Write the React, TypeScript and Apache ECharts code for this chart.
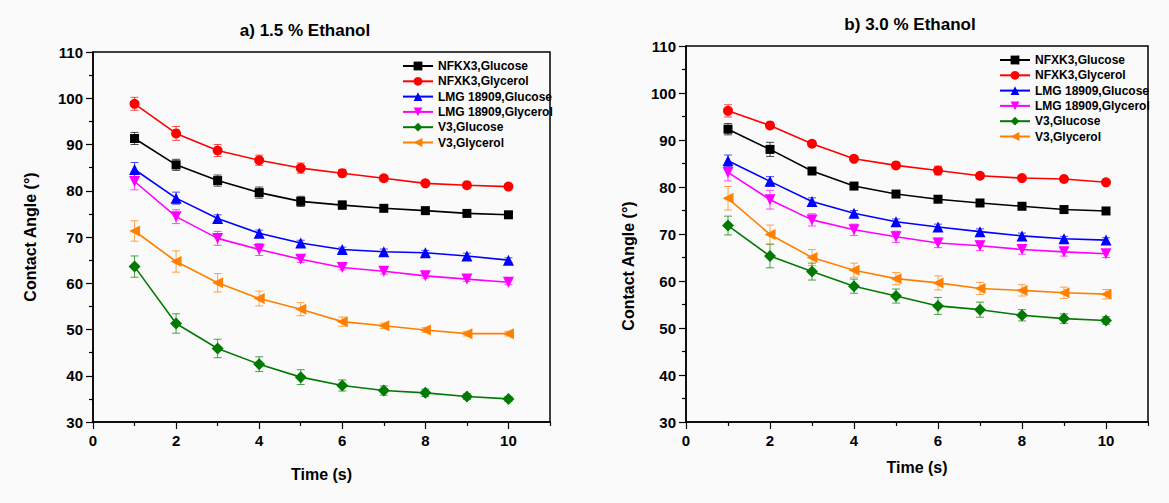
import React, { useEffect, useRef } from 'react';
import * as echarts from 'echarts';

const times = [1, 2, 3, 4, 5, 6, 7, 8, 9, 10];
const xTickLabels = [0, 2, 4, 6, 8, 10];
const xMinorTicks = [1, 3, 5, 7, 9, 11];

const namesA = ['NFKX3,Glucose', 'NFXK3,Glycerol', 'LMG 18909,Glucose', 'LMG 18909,Glycerol', 'V3,Glucose', 'V3,Glycerol'];
const namesB = ['NFXK3,Glucose', 'NFXK3,Glycerol', 'LMG 18909,Glucose', 'LMG 18909,Glycerol', 'V3,Glucose', 'V3,Glycerol'];

// Panel a) 1.5 % Ethanol
const nfxGluA = [91.3, 85.6, 82.2, 79.6, 77.7, 76.9, 76.2, 75.7, 75.1, 74.8];
const nfxGlyA = [98.8, 92.4, 88.7, 86.6, 84.9, 83.8, 82.7, 81.6, 81.2, 80.9];
const lmgGluA = [84.6, 78.4, 74.0, 70.8, 68.7, 67.3, 66.8, 66.6, 65.9, 65.0];
const lmgGlyA = [82.0, 74.4, 69.7, 67.3, 65.2, 63.4, 62.6, 61.6, 60.9, 60.2];
const v3GluA = [63.6, 51.3, 45.9, 42.5, 39.7, 37.9, 36.8, 36.3, 35.5, 35.0];
const v3GlyA = [71.3, 64.7, 60.1, 56.7, 54.4, 51.7, 50.8, 49.9, 49.1, 49.1];

const nfxGluAErr = [1.3, 1.2, 1.2, 1.2, 1.1, 0.9, 0.6, 0.5, 0.5, 0.4];
const nfxGlyAErr = [1.4, 1.5, 1.3, 1.1, 1.1, 0.8, 0.6, 0.5, 0.5, 0.4];
const lmgGluAErr = [1.5, 1.3, 0.8, 0.7, 0.6, 0.5, 0.6, 0.5, 0.6, 0.5];
const lmgGlyAErr = [1.8, 1.5, 1.5, 1.3, 0.7, 0.5, 0.6, 0.5, 0.5, 0.5];
const v3GluAErr = [2.3, 2.1, 2.0, 1.6, 1.6, 1.2, 1.0, 0.8, 0.6, 0.5];
const v3GlyAErr = [2.2, 2.3, 2.0, 1.6, 1.4, 1.0, 0.6, 0.5, 0.5, 0.5];

// Panel b) 3.0 % Ethanol
const nfxGluB = [92.3, 88.0, 83.4, 80.2, 78.5, 77.4, 76.6, 75.9, 75.2, 74.9];
const nfxGlyB = [96.2, 93.1, 89.2, 86.0, 84.6, 83.5, 82.4, 81.9, 81.7, 81.0];
const lmgGluB = [85.6, 81.2, 76.9, 74.4, 72.6, 71.5, 70.5, 69.6, 69.0, 68.7];
const lmgGlyB = [83.1, 77.3, 73.0, 70.9, 69.4, 68.1, 67.5, 66.7, 66.2, 65.8];
const v3GluB = [71.8, 65.3, 62.0, 58.9, 56.8, 54.7, 53.9, 52.7, 52.0, 51.6];
const v3GlyB = [77.6, 69.9, 65.0, 62.3, 60.5, 59.6, 58.4, 58.0, 57.5, 57.2];

const nfxGluBErr = [1.2, 1.5, 0.6, 0.5, 0.5, 0.5, 0.5, 0.5, 0.5, 0.4];
const nfxGlyBErr = [1.3, 0.6, 0.6, 0.5, 0.5, 0.9, 0.5, 0.5, 0.5, 0.4];
const lmgGluBErr = [1.2, 1.0, 0.8, 0.6, 0.6, 0.6, 0.6, 0.6, 0.5, 0.5];
const lmgGlyBErr = [1.8, 2.0, 1.3, 1.2, 1.2, 1.0, 1.0, 1.0, 0.9, 0.8];
const v3GluBErr = [2.0, 2.5, 1.8, 1.5, 1.5, 1.8, 1.6, 1.2, 1.0, 0.8];
const v3GlyBErr = [2.5, 2.0, 1.7, 1.5, 1.3, 1.5, 1.3, 1.2, 1.2, 1.0];

const FONT = '"Liberation Sans", Arial, sans-serif';

const styles = [
  { color: '#000000', symbol: 'rect', size: 9 },
  { color: '#ff0000', symbol: 'circle', size: 10 },
  { color: '#0000ff', symbol: 'triangle', size: 11 },
  { color: '#ff00ff', symbol: 'path://M0,0 L10,0 L5,9 Z', size: 11 },
  { color: '#007a00', symbol: 'diamond', size: 12 },
  { color: '#ff8000', symbol: 'path://M0,5 L9,0 L9,10 Z', size: 11 },
];

const panelA = [nfxGluA, nfxGlyA, lmgGluA, lmgGlyA, v3GluA, v3GlyA];
const panelAErr = [nfxGluAErr, nfxGlyAErr, lmgGluAErr, lmgGlyAErr, v3GluAErr, v3GlyAErr];
const panelB = [nfxGluB, nfxGlyB, lmgGluB, lmgGlyB, v3GluB, v3GlyB];
const panelBErr = [nfxGluBErr, nfxGlyBErr, lmgGluBErr, lmgGlyBErr, v3GluBErr, v3GlyBErr];

function errorSeries(name: string, xIdx: number, yIdx: number, vals: number[], errs: number[], color: string) {
  return {
    type: 'custom',
    name,
    xAxisIndex: xIdx,
    yAxisIndex: yIdx,
    silent: true,
    z: 1,
    data: times.map((t, i) => [t, vals[i] - errs[i], vals[i] + errs[i]]),
    encode: { x: 0, y: [1, 2] },
    renderItem: (params: any, api: any) => {
      const x = api.value(0);
      const lo = api.coord([x, api.value(1)]);
      const hi = api.coord([x, api.value(2)]);
      const w = 4;
      const style = { stroke: color, lineWidth: 1, opacity: 0.7 };
      return {
        type: 'group',
        children: [
          { type: 'line', shape: { x1: lo[0], y1: lo[1], x2: hi[0], y2: hi[1] }, style },
          { type: 'line', shape: { x1: lo[0] - w, y1: lo[1], x2: lo[0] + w, y2: lo[1] }, style },
          { type: 'line', shape: { x1: hi[0] - w, y1: hi[1], x2: hi[0] + w, y2: hi[1] }, style },
        ],
      };
    },
  };
}

function lineSeries(name: string, xIdx: number, yIdx: number, vals: number[], k: number) {
  const s = styles[k];
  return {
    type: 'line',
    name,
    xAxisIndex: xIdx,
    yAxisIndex: yIdx,
    z: 3,
    data: times.map((t, i) => [t, vals[i]]),
    symbol: s.symbol,
    symbolSize: s.size,
    lineStyle: { color: s.color, width: 1.6 },
    itemStyle: { color: s.color },
  };
}

function xAxes(gridIndex: number, nameGap: number) {
  return [
    {
      gridIndex,
      type: 'value',
      position: 'bottom',
      min: 0,
      max: 11,
      interval: 1,
      axisLine: { show: true, lineStyle: { color: '#000', width: 1.5 } },
      axisTick: { show: true, customValues: xMinorTicks, length: 4, lineStyle: { color: '#000', width: 1.2 } },
      axisLabel: { show: false },
      splitLine: { show: false },
    },
    {
      gridIndex,
      type: 'value',
      position: 'bottom',
      offset: 0,
      min: 0,
      max: 11,
      interval: 2,
      axisLine: { show: false },
      axisTick: { show: true, customValues: xTickLabels, length: 7, lineStyle: { color: '#000', width: 1.2 } },
      axisLabel: {
        customValues: xTickLabels,
        formatter: (v: number) => (v % 2 === 0 && v <= 10 ? String(v) : ''),
        fontSize: 15,
        fontWeight: 'bold',
        fontFamily: FONT,
        color: '#000',
        margin: 11,
      },
      splitLine: { show: false },
      name: 'Time (s)',
      nameLocation: 'middle',
      nameGap,
      nameTextStyle: { fontSize: 16, fontWeight: 'bold', fontFamily: FONT, color: '#000' },
    },
  ];
}

function yAxis(gridIndex: number, nameGap: number, padding: number[]) {
  return {
    gridIndex,
    type: 'value',
    position: 'left',
    min: 30,
    max: 110,
    interval: 10,
    axisLine: { show: true, lineStyle: { color: '#000', width: 1.5 } },
    axisTick: { show: true, length: 7, lineStyle: { color: '#000', width: 1.2 } },
    minorTick: { show: true, splitNumber: 2, length: 4, lineStyle: { color: '#000', width: 1.2 } },
    axisLabel: { fontSize: 15, fontWeight: 'bold', fontFamily: FONT, color: '#000', margin: 10 },
    splitLine: { show: false },
    name: 'Contact Angle (°)',
    nameLocation: 'middle',
    nameGap,
    nameTextStyle: { fontSize: 16, fontWeight: 'bold', fontFamily: FONT, color: '#000', padding },
  };
}

function legend(names: string[], left: number, top: number) {
  return {
    orient: 'vertical',
    left,
    top,
    itemWidth: 30,
    itemHeight: 11,
    itemGap: 3.3,
    data: names,
    textStyle: { fontSize: 12, fontWeight: 'bold', fontFamily: FONT, color: '#000', lineHeight: 12 },
  };
}

export default function App() {
  const ref = useRef<HTMLDivElement>(null);
  useEffect(() => {
    if (!ref.current) return;
    const chart = echarts.init(ref.current, null, { renderer: 'svg' });
    const series: any[] = [];
    panelA.forEach((v, k) => series.push(errorSeries('errA' + k, 0, 0, v, panelAErr[k], styles[k].color)));
    panelB.forEach((v, k) => series.push(errorSeries('errB' + k, 2, 1, v, panelBErr[k], styles[k].color)));
    panelA.forEach((v, k) => series.push(lineSeries(namesA[k], 0, 0, v, k)));
    panelB.forEach((v, k) => series.push(lineSeries(namesB[k], 2, 1, v, k)));

    chart.setOption({
      animation: false,
      backgroundColor: '#fafafa',
      grid: [
        { left: 93, top: 52, width: 457, height: 370, show: true, borderColor: '#000', borderWidth: 1.5, backgroundColor: 'transparent' },
        { left: 686, top: 46, width: 462, height: 376, show: true, borderColor: '#000', borderWidth: 1.5, backgroundColor: 'transparent' },
      ],
      xAxis: [...xAxes(0, 44), ...xAxes(1, 37)],
      yAxis: [yAxis(0, 55, [0, 0, 0, 0]), yAxis(1, 50, [0, 64, 0, 0])],
      legend: [legend(namesA, 397, 55), legend(namesB, 994, 49)],
      graphic: [
        {
          type: 'text',
          x: 305,
          y: 30,
          style: { text: 'a) 1.5 % Ethanol', font: `bold 17px ${FONT}`, fill: '#000', textAlign: 'center', textVerticalAlign: 'middle' },
        },
        {
          type: 'text',
          x: 910,
          y: 24,
          style: { text: 'b) 3.0 % Ethanol', font: `bold 17px ${FONT}`, fill: '#000', textAlign: 'center', textVerticalAlign: 'middle' },
        },
      ],
      series,
    });
    return () => chart.dispose();
  }, []);
  return <div ref={ref} style={{ position: 'absolute', left: 0, top: 0, width: 1169, height: 503 }} />;
}
